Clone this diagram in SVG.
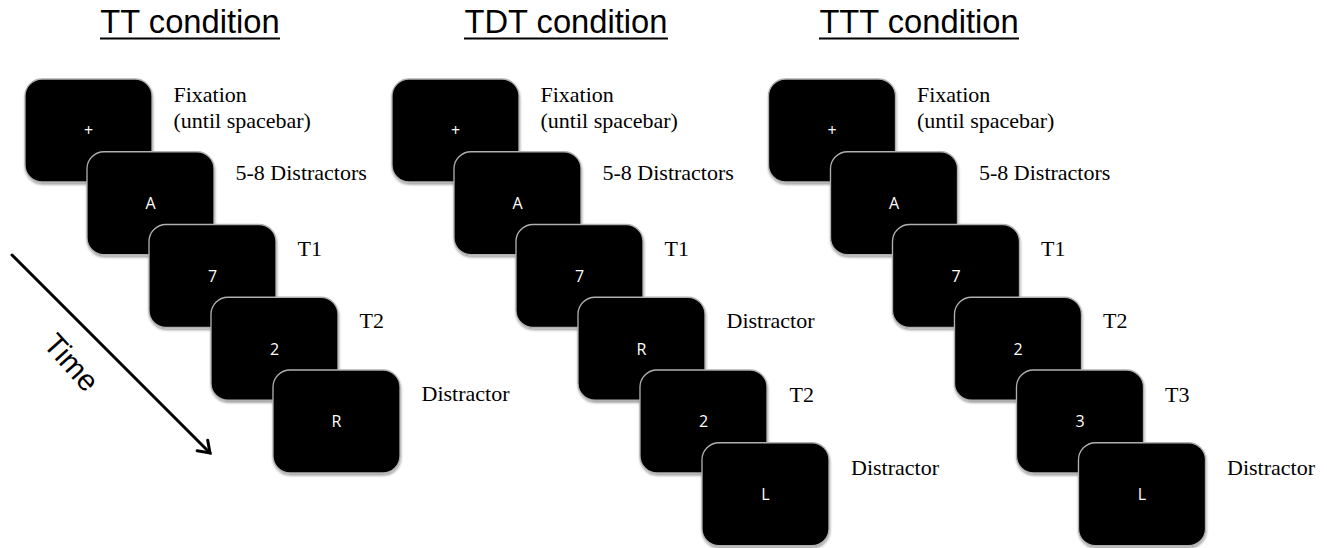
<svg xmlns="http://www.w3.org/2000/svg" width="1327" height="548" viewBox="0 0 1327 548">
<style>
.card{fill:#000;stroke:#b0b0b0;stroke-width:1.3;filter:url(#sh)}
.lt{fill:#fff;font-family:"Open Sans","Liberation Sans",sans-serif;font-size:16px;text-anchor:middle}
.lb{fill:#000;font-family:"Liberation Serif","Times New Roman",serif;font-size:22px}
.title{fill:#000;font-family:"Liberation Sans",Arial,sans-serif;font-size:32.7px;text-anchor:middle}
.ul{stroke:#000;stroke-width:2}
.arr{fill:none;stroke:#000;stroke-width:3;stroke-linecap:round}
</style>
<defs>
<filter id="sh" x="-10%" y="-10%" width="125%" height="130%">
<feDropShadow dx="0.5" dy="2" stdDeviation="1.2" flood-color="#000" flood-opacity="0.35"/>
</filter>
</defs>
<rect width="1327" height="548" fill="#fff"/>
<g id="titles">
<text class="title" x="190" y="33">TT condition</text>
<line class="ul" x1="100" y1="38.5" x2="280" y2="38.5"/>
<text class="title" x="566" y="33">TDT condition</text>
<line class="ul" x1="464" y1="38.5" x2="668" y2="38.5"/>
<text class="title" x="919" y="33">TTT condition</text>
<line class="ul" x1="819" y1="38.5" x2="1019" y2="38.5"/>
</g>
<g id="connectors">
<path class="arr" d="M12,255 L210,453"/>
<path class="arr" d="M197.2,450.7 L210,453 L207.7,440.2"/>
<text transform="translate(72,362) rotate(48)" x="0" y="11" font-family="Liberation Sans,Arial,sans-serif" font-size="30" text-anchor="middle">Time</text>
</g>
<g id="tt">
<g id="tt-1"><rect class="card" x="25" y="79" width="127" height="103" rx="17"/><text class="lt" x="88.5" y="136">+</text><text class="lb" x="173.5" y="102">Fixation</text><text class="lb" x="173.5" y="128">(until spacebar)</text></g>
<g id="tt-2"><rect class="card" x="87" y="151.75" width="127" height="103" rx="17"/><text class="lt" x="150.5" y="209">A</text><text class="lb" x="235.5" y="180">5-8 Distractors</text></g>
<g id="tt-3"><rect class="card" x="149" y="224.5" width="127" height="103" rx="17"/><text class="lt" x="212.5" y="282">7</text><text class="lb" x="297.5" y="255.5">T1</text></g>
<g id="tt-4"><rect class="card" x="211" y="297.25" width="127" height="103" rx="17"/><text class="lt" x="274.5" y="354.5">2</text><text class="lb" x="359.5" y="328">T2</text></g>
<g id="tt-5"><rect class="card" x="273" y="370" width="127" height="103" rx="17"/><text class="lt" x="336.5" y="427">R</text><text class="lb" x="421.5" y="401">Distractor</text></g>
</g>
<g id="tdt">
<g id="tdt-1"><rect class="card" x="392" y="79" width="127" height="103" rx="17"/><text class="lt" x="455.5" y="136">+</text><text class="lb" x="540.5" y="102">Fixation</text><text class="lb" x="540.5" y="128">(until spacebar)</text></g>
<g id="tdt-2"><rect class="card" x="454" y="151.75" width="127" height="103" rx="17"/><text class="lt" x="517.5" y="209">A</text><text class="lb" x="602.5" y="180">5-8 Distractors</text></g>
<g id="tdt-3"><rect class="card" x="516" y="224.5" width="127" height="103" rx="17"/><text class="lt" x="579.5" y="282">7</text><text class="lb" x="664.5" y="255.5">T1</text></g>
<g id="tdt-4"><rect class="card" x="578" y="297.25" width="127" height="103" rx="17"/><text class="lt" x="641.5" y="354.5">R</text><text class="lb" x="726.5" y="328">Distractor</text></g>
<g id="tdt-5"><rect class="card" x="640" y="370" width="127" height="103" rx="17"/><text class="lt" x="703.5" y="427">2</text><text class="lb" x="789.5" y="402">T2</text></g>
<g id="tdt-6"><rect class="card" x="702" y="442.75" width="127" height="103" rx="17"/><text class="lt" x="765.5" y="500">L</text><text class="lb" x="851" y="475">Distractor</text></g>
</g>
<g id="ttt">
<g id="ttt-1"><rect class="card" x="768.5" y="79" width="127" height="103" rx="17"/><text class="lt" x="832" y="136">+</text><text class="lb" x="917" y="102">Fixation</text><text class="lb" x="917" y="128">(until spacebar)</text></g>
<g id="ttt-2"><rect class="card" x="830.5" y="151.75" width="127" height="103" rx="17"/><text class="lt" x="894" y="209">A</text><text class="lb" x="979" y="180">5-8 Distractors</text></g>
<g id="ttt-3"><rect class="card" x="892.5" y="224.5" width="127" height="103" rx="17"/><text class="lt" x="956" y="282">7</text><text class="lb" x="1041" y="255.5">T1</text></g>
<g id="ttt-4"><rect class="card" x="954.5" y="297.25" width="127" height="103" rx="17"/><text class="lt" x="1018" y="354.5">2</text><text class="lb" x="1103" y="328">T2</text></g>
<g id="ttt-5"><rect class="card" x="1016.5" y="370" width="127" height="103" rx="17"/><text class="lt" x="1080" y="427">3</text><text class="lb" x="1165" y="402">T3</text></g>
<g id="ttt-6"><rect class="card" x="1078.5" y="442.75" width="127" height="103" rx="17"/><text class="lt" x="1142" y="500">L</text><text class="lb" x="1227" y="475">Distractor</text></g>
</g>
</svg>
